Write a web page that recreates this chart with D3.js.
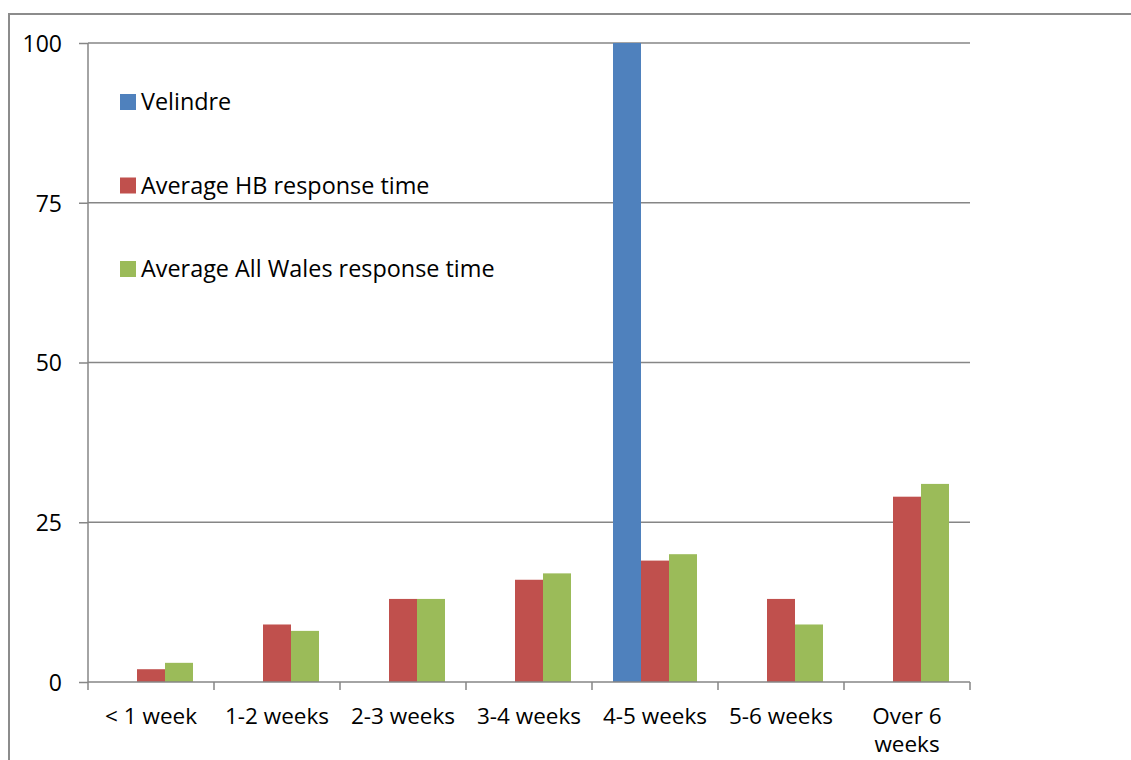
<!DOCTYPE html>
<html>
<head>
<meta charset="utf-8">
<script src="https://cdn.jsdelivr.net/npm/d3@7"></script>
<style>
  html, body { margin: 0; padding: 0; background: #fff; }
  svg text { font-family: "Open Sans", "Lato", sans-serif; fill: #000; }
</style>
</head>
<body>
<svg id="chart" width="1131" height="760"></svg>
<script>
const categories = ["< 1 week", "1-2 weeks", "2-3 weeks", "3-4 weeks", "4-5 weeks", "5-6 weeks", "Over 6 weeks"];
const seriesNames = ["Velindre", "Average HB response time", "Average All Wales response time"];
const velindre = [0, 0, 0, 0, 100, 0, 0];
const hbAverage = [2, 9, 13, 16, 19, 13, 29];
const walesAverage = [3, 8, 13, 17, 20, 9, 31];
const yTicks = [0, 25, 50, 75, 100];
const colors = ["#4F81BD", "#C0504D", "#9BBB59"];

const seriesValues = [velindre, hbAverage, walesAverage];
const svg = d3.select("#chart");
const W = 1131, H = 760;
const margin = { left: 88, right: W - 970, top: 43, bottom: H - 682 };

// outer border
svg.append("path")
  .attr("d", `M9,760 L9,14 L1131,14`)
  .attr("fill", "none").attr("stroke", "#8c8c8c").attr("stroke-width", 2);

const x = d3.scaleBand().domain(categories).range([margin.left, W - margin.right]).paddingInner(0).paddingOuter(0);
const y = d3.scaleLinear().domain([0, 100]).range([H - margin.bottom, margin.top]);
const groupPad = (x.bandwidth() - 84) / 2;
const xs = d3.scaleBand().domain(d3.range(3)).range([groupPad, x.bandwidth() - groupPad]);

// gridlines
svg.append("g").selectAll("line").data(yTicks.filter(d => d > 0)).join("line")
  .attr("x1", margin.left).attr("x2", W - margin.right)
  .attr("y1", d => y(d)).attr("y2", d => y(d))
  .attr("stroke", "#868686").attr("stroke-width", 1.5);

// bars
const data = [];
categories.forEach((c, i) => seriesValues.forEach((s, j) => {
  if (s[i] > 0) data.push({ c, j, v: s[i] });
}));
svg.append("g").selectAll("rect").data(data).join("rect")
  .attr("x", d => x(d.c) + xs(d.j))
  .attr("width", xs.bandwidth())
  .attr("y", d => y(d.v))
  .attr("height", d => y(0) - y(d.v))
  .attr("fill", d => colors[d.j]);

// y axis
const yAxis = svg.append("g").attr("transform", `translate(${margin.left},0)`)
  .call(d3.axisLeft(y).tickValues(yTicks).tickSize(9).tickPadding(17));
yAxis.select(".domain").attr("stroke", "#868686").attr("stroke-width", 1.5).attr("d", `M0,${y(100)}V${y(0)}`);
yAxis.selectAll(".tick line").attr("stroke", "#868686").attr("stroke-width", 1.5);
yAxis.selectAll(".tick text").style("font-size", "23px").attr("font-family", null).attr("dy", "0.36em");

// x axis
const xAxis = svg.append("g").attr("transform", `translate(0,${y(0)})`)
  .call(d3.axisBottom(x).tickSize(0).tickPadding(26));
xAxis.select(".domain").attr("stroke", "#868686").attr("stroke-width", 1.5).attr("d", `M${margin.left},0H${W - margin.right}`);
xAxis.selectAll(".tick text").style("font-size", "22.5px").attr("font-family", null)
  .attr("dy", null).attr("y", 42);
// category boundary ticks
svg.append("g").selectAll("line").data(d3.range(categories.length + 1)).join("line")
  .attr("x1", i => margin.left + i * x.step()).attr("x2", i => margin.left + i * x.step())
  .attr("y1", y(0)).attr("y2", y(0) + 8)
  .attr("stroke", "#868686").attr("stroke-width", 1.5);

// wrap "Over 6 weeks"
xAxis.selectAll(".tick text").each(function(d) {
  if (d === "Over 6 weeks") {
    const t = d3.select(this);
    t.text(null);
    t.append("tspan").attr("x", 0).attr("y", 42).text("Over 6");
    t.append("tspan").attr("x", 0).attr("y", 70).text("weeks");
  }
});

// legend
const legend = svg.append("g");
seriesNames.forEach((n, j) => {
  const top = 94 + j * 83.5;
  legend.append("rect").attr("x", 120).attr("y", top).attr("width", 16).attr("height", 16).attr("fill", colors[j]);
  legend.append("text").attr("x", 141).attr("y", top + 16).style("font-size", "23.4px").text(n);
});
</script>
</body>
</html>
